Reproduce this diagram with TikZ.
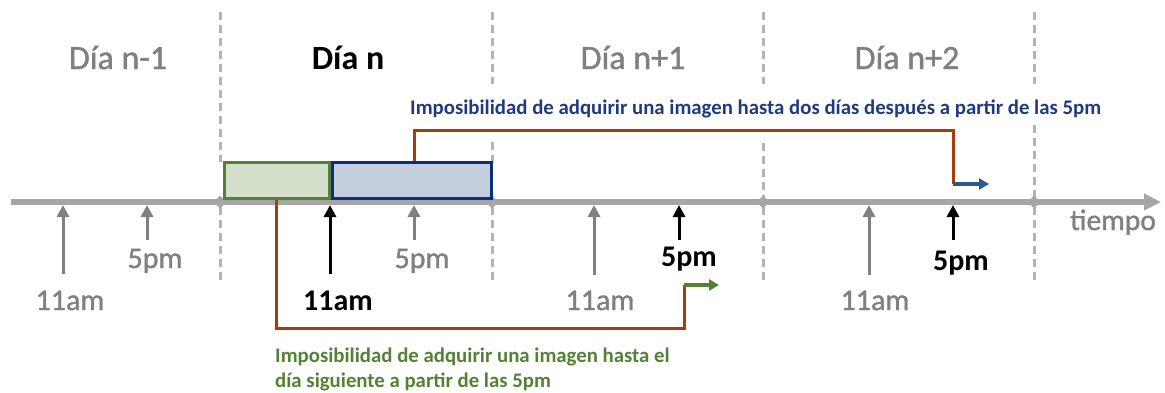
\documentclass[tikz,border=0pt]{standalone}
\usepackage{fontspec}
\setmainfont{Carlito}
\newfontfamily\carlitogrueso[FakeBold=1.2]{Carlito}
\usetikzlibrary{arrows.meta,shapes.geometric,positioning}

\definecolor{ejegris}{HTML}{A6A6A6}
\definecolor{guiagris}{HTML}{B4B4B4}
\definecolor{textogris}{HTML}{808080}
\definecolor{verdeborde}{HTML}{538135}
\definecolor{verderelleno}{HTML}{D3DFCA}
\definecolor{azulborde}{HTML}{0E2C80}
\definecolor{azulrelleno}{HTML}{C3CFDC}
\definecolor{azultexto}{HTML}{1F3A80}
\definecolor{azulflecha}{HTML}{2A5A8E}
\definecolor{naranja}{HTML}{A83C0C}

\tikzset{
  dia/.style={anchor=base, inner sep=0pt, text=textogris, font=\fontsize{34}{40}\carlitogrueso},
  hora/.style={anchor=base, inner sep=0pt, text=textogris, font=\fontsize{30}{36}\carlitogrueso},
  horanegra/.style={hora, text=black, font=\fontsize{30}{36}\selectfont\bfseries},
  marca/.style={draw=textogris, line width=3pt, -{Triangle[width=12pt,length=12pt]}},
  marcanegra/.style={marca, draw=black},
  guia/.style={draw=guiagris, line width=3pt, dash pattern=on 8pt off 5pt},
  rombo/.style={diamond, fill=ejegris, inner sep=0pt, minimum size=13pt},
  cajaverde/.style={draw=verdeborde, fill=verderelleno, line width=3pt,
    minimum width=105pt, minimum height=36pt, inner sep=0pt},
  cajaazul/.style={draw=azulborde, fill=azulrelleno, line width=3pt,
    minimum width=159pt, minimum height=36pt, inner sep=0pt},
  conector/.style={draw=naranja, line width=3pt},
  flechaazul/.style={draw=azulflecha, line width=3.5pt, -{Triangle[width=11pt,length=10pt]}},
  flechaverde/.style={draw=verdeborde, line width=3.5pt, -{Triangle[width=11pt,length=10pt]}},
  nota/.style={inner sep=0pt, font=\fontsize{20.8}{24.5}\selectfont\bfseries, align=left},
}

\begin{document}
\begin{tikzpicture}[x=1pt, y=-1pt]
\useasboundingbox (0,0) rectangle (1165,392);

% separacion de los dias
\draw[guia] (220,12) -- (220,162);
\draw[guia] (492,12) -- (492,84);
\draw[guia] (492,142) -- (492,162);
\draw[guia] (763,12) -- (763,84);
\draw[guia] (763,143) -- (763,200);
\draw[guia] (1034,12) -- (1034,84);
\draw[guia] (1034,125) -- (1034,200);
\draw[guia] (220,207) -- (220,283);
\draw[guia] (492,207) -- (492,282);
\draw[guia] (763,207) -- (763,283);
\draw[guia] (1034,207) -- (1034,280);

\node[dia] (dia0) at (118,69) {Día n-1};
\node[dia, text=black, font=\fontsize{34}{40}\selectfont\bfseries] (dia1) at (348,69) {Día n};
\node[dia] (dia2) at (633,69) {Día n+1};
\node[dia] (dia3) at (907,69) {Día n+2};

% eje del tiempo
\coordinate (inicio) at (11,202);
\coordinate (fin) at (1161,202);
\draw[draw=ejegris, line width=6pt, -{Triangle[width=16pt,length=17pt]}] (inicio) -- (fin);
\node[hora, font=\fontsize{29.5}{34}\carlitogrueso] (tiempo) at (1113,230) {tiempo};
\node[rombo] (r1) at (220,202) {};
\node[rombo] (r2) at (492,202) {};
\node[rombo] (r3) at (763,202) {};
\node[rombo] (r4) at (1034,202) {};

% ventanas de pedido
\node[cajaverde, anchor=south west] (verde) at (222.5,200) {};
\node[cajaazul, right=0pt of verde] (azul) {};

% horas
\coordinate (t11a) at (63,205);   \coordinate (c11a) at (63,274);
\coordinate (t5a) at (147,205);   \coordinate (c5a) at (147,240);
\coordinate (t11b) at (330,205);  \coordinate (c11b) at (330,274);
\coordinate (t5b) at (414,205);   \coordinate (c5b) at (414,240);
\coordinate (t11c) at (594,205);  \coordinate (c11c) at (594,275);
\coordinate (t5c) at (679,205);   \coordinate (c5c) at (679,240);
\coordinate (t11d) at (869,205);  \coordinate (c11d) at (869,275);
\coordinate (t5d) at (953,205);   \coordinate (c5d) at (953,240);

\draw[marca] (c11a) -- (t11a);
\draw[marca] (c5a) -- (t5a);
\draw[marcanegra] (c11b) -- (t11b);
\draw[marca] (c5b) -- (t5b);
\draw[marca] (c11c) -- (t11c);
\draw[marcanegra] (c5c) -- (t5c);
\draw[marca] (c11d) -- (t11d);
\draw[marcanegra] (c5d) -- (t5d);

\node[hora] (e11a) at (70,310) {11am};
\node[hora] (e5a) at (155,268) {5pm};
\node[horanegra] (e11b) at (338,310) {11am};
\node[hora] (e5b) at (422,268) {5pm};
\node[hora] (e11c) at (600,310) {11am};
\node[horanegra] (e5c) at (689,266) {5pm};
\node[hora] (e11d) at (875,310) {11am};
\node[horanegra] (e5d) at (961,270) {5pm};

% imposibilidad hasta dos dias despues
\coordinate (altoazul) at (0,130);
\coordinate (finazul) at (953,184);
\coordinate[right=36pt of finazul] (puntaazul);
\draw[conector] (t5b |- azul.north) |- (finazul |- altoazul) -- (finazul);
\draw[flechaazul] (finazul) -- (puntaazul);
\node[nota, text=azultexto, anchor=base west] (txtazul) at (410,114)
  {Imposibilidad de adquirir una imagen hasta dos días después a partir de las 5pm};

% imposibilidad hasta el dia siguiente
\coordinate (bajoverde) at (0,328);
\coordinate (finverde) at (684,285);
\coordinate[right=35pt of finverde] (puntaverde);
\draw[conector] (verde.south) |- (finverde |- bajoverde) -- (finverde);
\draw[flechaverde] (finverde) -- (puntaverde);
\node[nota, text=verdeborde, anchor=north west] (txtverde) at (275,348)
  {Imposibilidad de adquirir una imagen hasta el\\día siguiente a partir de las 5pm};
\end{tikzpicture}
\end{document}
